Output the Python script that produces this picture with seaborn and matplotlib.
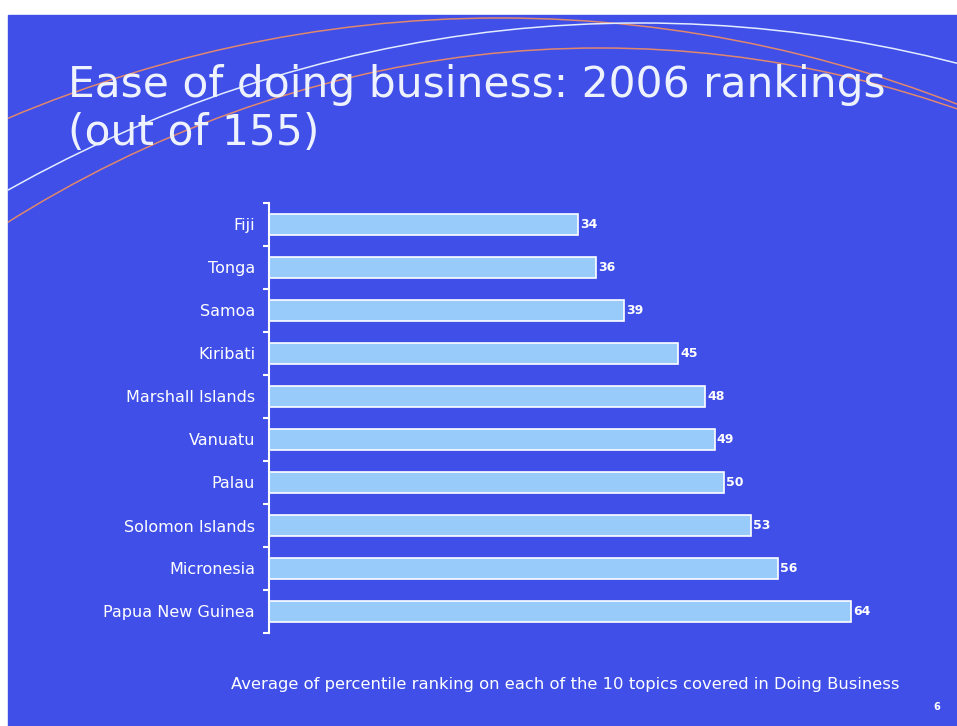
import numpy as np
import pandas as pd
import matplotlib
matplotlib.use("Agg")
import matplotlib.pyplot as plt
from matplotlib.patches import Ellipse, Rectangle
import seaborn as sns

# data
countries = ["Fiji", "Tonga", "Samoa", "Kiribati", "Marshall Islands", "Vanuatu",
             "Palau", "Solomon Islands", "Micronesia", "Papua New Guinea"]
rankings = [34, 36, 39, 45, 48, 49, 50, 53, 56, 64]

title_line1 = "Ease of doing business: 2006 rankings"
title_line2 = "(out of 155)"
note_text = "Average of percentile ranking on each of the 10 topics covered in Doing Business"
page_no = "6"

slide_blue = "#3f4fe8"
bar_blue = "#99cbfa"

df = pd.DataFrame({"country": countries, "rank": rankings})

sns.set_theme(style="white")
plt.rcParams["font.family"] = ["DejaVu Sans"]

W, H = 957, 726
fig = plt.figure(figsize=(W / 100, H / 100), dpi=100)
fig.patch.set_facecolor("white")

# background layer in pixel coords (slide + decorative arcs)
bg = fig.add_axes([0, 0, 1, 1])
bg.set_xlim(0, W)
bg.set_ylim(H, 0)
bg.axis("off")
bg.add_patch(Rectangle((8, 15), W - 8, H - 15, color=slide_blue, zorder=0))
arcs = [  # cx, top, half-width, half-height, colour
    (500, 18, 1369, 1500, "#e0876e"),
    (640, 23, 1378, 1500, "#e4ecff"),
    (600, 48, 1266, 1500, "#e0876e"),
]
for cx, top, a, b, col in arcs:
    e = Ellipse((cx, top + b), 2 * a, 2 * b, fill=False, edgecolor=col, lw=1.1, zorder=1)
    bg.add_patch(e)
    e.set_clip_path(Rectangle((8, 15), W - 8, H - 15, transform=bg.transData))

# the bar chart
ax = fig.add_axes([269 / W, 1 - 633 / H, (951 - 269) / W, (633 - 203) / H])
ax.patch.set_alpha(0)
sns.barplot(data=df, x="rank", y="country", orient="h", color=bar_blue,
            edgecolor="white", linewidth=1.2, width=0.5, saturation=1, ax=ax)
ax.set_xlim(0, 75)
ax.set_ylim(9.5, -0.5)
ax.set_xlabel("")
ax.set_ylabel("")
ax.set_xticks([])
for side in ["top", "right", "bottom"]:
    ax.spines[side].set_visible(False)
ax.spines["left"].set_color("white")
ax.spines["left"].set_linewidth(1.5)
ax.set_yticks(np.arange(-0.5, 10, 1), minor=True)
ax.tick_params(axis="y", which="major", length=0, pad=10, labelcolor="white", labelsize=11.5)
ax.tick_params(axis="y", which="minor", left=True, length=4, width=1.5, color="white")
ax.bar_label(ax.containers[0], padding=1.5, color="white", fontsize=9, fontweight="bold")

fig.text(68 / W, 1 - 97 / H, title_line1, color="#eef2ff", fontsize=30.5,
         ha="left", va="baseline")
fig.text(68 / W, 1 - 145 / H, title_line2, color="#eef2ff", fontsize=30.5,
         ha="left", va="baseline")
fig.text(565 / W, 1 - 685 / H, note_text, color="white", fontsize=11.8, ha="center", va="center")
fig.text(937 / W, 1 - 707 / H, page_no, color="white", fontsize=7, fontweight="bold",
         ha="center", va="center")

fig.savefig("out.png", dpi=100)
